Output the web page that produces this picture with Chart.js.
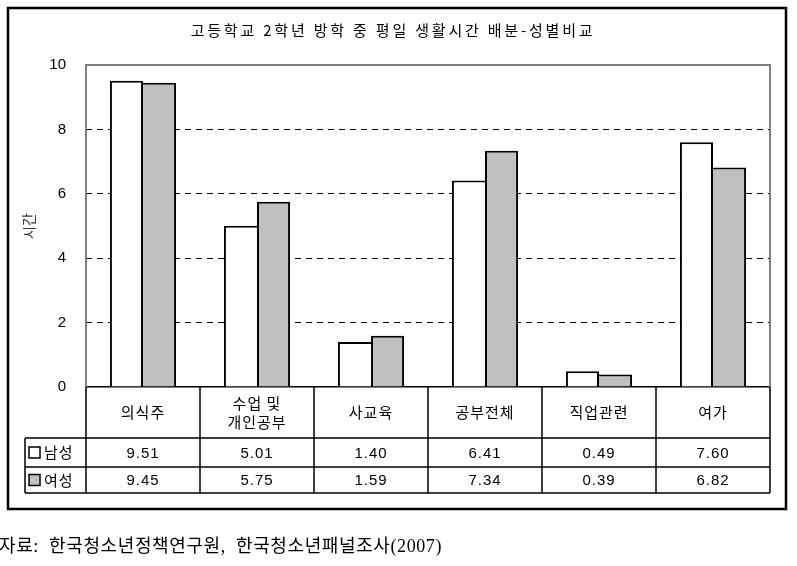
<!DOCTYPE html>
<html>
<head>
<meta charset="utf-8">
<script src="https://cdn.jsdelivr.net/npm/chart.js@4"></script>
<style>
  html, body { margin: 0; padding: 0; background: #fff; }
  #wrap { width: 797px; height: 566px; }
</style>
</head>
<body>
<div id="wrap"><canvas id="myChart" width="797" height="566"></canvas></div>
<script>
// data
const chartTitle = '고등학교 2학년 방학 중 평일 생활시간 배분-성별비교';
const categories = ['의식주', ['수업 및', '개인공부'], '사교육', '공부전체', '직업관련', '여가'];
const seriesNames = ['남성', '여성'];
const maleHours = [9.51, 5.01, 1.40, 6.41, 0.49, 7.60];
const femaleHours = [9.45, 5.75, 1.59, 7.34, 0.39, 6.82];
const yTicks = [0, 2, 4, 6, 8, 10];
const yTitle = '시간';
const sourceNote = '자료:  한국청소년정책연구원,  한국청소년패널조사(2007)';

const seriesFill = ['#ffffff', '#c0c0c0'];
const korFont = '"Noto Sans CJK KR", sans-serif';
const numFont = '"Liberation Sans", Arial, sans-serif';

// shared edge between the two bars of a group is drawn once, by the taller bar
function maleBorder(c) {
  const i = c.dataIndex;
  return { top: 2, left: 2, right: maleHours[i] >= femaleHours[i] ? 2 : 0, bottom: 0 };
}
function femaleBorder(c) {
  const i = c.dataIndex;
  return { top: 2, left: femaleHours[i] > maleHours[i] ? 2 : 0, right: 2, bottom: 0 };
}

const framePlugin = {
  id: 'frame',
  beforeDatasetsDraw(chart) {
    const { ctx, chartArea: a } = chart;
    ctx.save();
    ctx.strokeStyle = '#808080';
    ctx.lineWidth = 2;
    ctx.beginPath();
    ctx.moveTo(a.left, a.bottom);
    ctx.lineTo(a.left, a.top);
    ctx.lineTo(a.right, a.top);
    ctx.lineTo(a.right, a.bottom);
    ctx.stroke();
    ctx.restore();
  },
  afterDraw(chart) {
    const { ctx, chartArea: a } = chart;
    ctx.save();

    // title
    ctx.fillStyle = '#000';
    ctx.font = '15px ' + korFont;
    ctx.letterSpacing = '2.8px';
    ctx.textAlign = 'center';
    ctx.textBaseline = 'middle';
    ctx.fillText(chartTitle, 393, 30);

    // data table under the plot
    const colW = (a.right - a.left) / categories.length;
    const y0 = a.bottom, y1 = a.bottom + 51, y2 = a.bottom + 80, y3 = a.bottom + 106;
    const legL = 25;
    ctx.strokeStyle = '#000';
    ctx.lineWidth = 1.5;
    ctx.beginPath();
    for (let i = 0; i <= categories.length; i++) {
      const x = a.left + i * colW;
      ctx.moveTo(x, y0); ctx.lineTo(x, y3);
    }
    [y1, y2, y3].forEach(y => { ctx.moveTo(legL, y); ctx.lineTo(a.right, y); });
    ctx.moveTo(legL, y1); ctx.lineTo(legL, y3);
    ctx.stroke();

    ctx.letterSpacing = '1px';
    categories.forEach((c, i) => {
      const cx = a.left + (i + 0.5) * colW;
      ctx.font = '15px ' + korFont;
      const lines = Array.isArray(c) ? c : [c];
      const lh = 19;
      const yc = (y0 + y1) / 2;
      lines.forEach((t, k) => {
        ctx.fillText(t, cx, yc + (k - (lines.length - 1) / 2) * lh);
      });
      ctx.font = '15px ' + numFont;
      ctx.fillText(maleHours[i].toFixed(2), cx, (y1 + y2) / 2 + 1);
      ctx.fillText(femaleHours[i].toFixed(2), cx, (y2 + y3) / 2 + 1);
    });

    // legend cells
    [y1, y2].forEach((yt, k) => {
      const yb = k === 0 ? y2 : y3;
      const ym = (yt + yb) / 2;
      ctx.fillStyle = seriesFill[k];
      ctx.fillRect(29, ym - 5.5, 11, 11);
      ctx.lineWidth = 1.5;
      ctx.strokeRect(29, ym - 5.5, 11, 11);
      ctx.fillStyle = '#000';
      ctx.textAlign = 'left';
      ctx.font = '15px ' + korFont;
      ctx.fillText(seriesNames[k], 44, ym);
      ctx.textAlign = 'center';
    });

    // outer box
    ctx.lineWidth = 2.5;
    ctx.strokeRect(8, 8, 778, 501);

    // source note
    ctx.letterSpacing = '0.6px';
    ctx.textAlign = 'left';
    ctx.font = '18px "Liberation Serif", ' + korFont;
    ctx.fillText(sourceNote, -1, 547);
    ctx.restore();
  }
};

new Chart(document.getElementById('myChart'), {
  type: 'bar',
  data: {
    labels: categories,
    datasets: [
      {
        label: seriesNames[0],
        data: maleHours,
        backgroundColor: seriesFill[0],
        borderColor: '#000',
        borderWidth: maleBorder
      },
      {
        label: seriesNames[1],
        data: femaleHours,
        backgroundColor: seriesFill[1],
        borderColor: '#000',
        borderWidth: femaleBorder
      }
    ]
  },
  options: {
    responsive: false,
    animation: false,
    layout: { padding: { top: 65, right: 27, left: 0, bottom: 0 } },
    datasets: { bar: { categoryPercentage: 0.58, barPercentage: 1 } },
    plugins: {
      legend: { display: false },
      tooltip: { enabled: false },
      title: { display: false }
    },
    scales: {
      x: {
        grid: { display: false },
        ticks: { display: false },
        border: { display: true, color: '#000', width: 1.5 },
        afterFit(s) { s.height = 179; }
      },
      y: {
        min: yTicks[0],
        max: yTicks[yTicks.length - 1],
        afterBuildTicks(s) { s.ticks = yTicks.map(v => ({ value: v })); },
        afterFit(s) { s.width = 86; },
        grid: {
          drawTicks: false,
          lineWidth: 1,
          color: c => (c.tick && (c.tick.value === 0 || c.tick.value === 10)) ? 'rgba(0,0,0,0)' : '#000'
        },
        border: { display: false, dash: [6, 5] },
        ticks: {
          padding: 20,
          color: '#000',
          font: { family: numFont, size: 15 }
        },
        title: {
          display: true,
          text: yTitle,
          color: '#333',
          font: { family: korFont, size: 14 },
          padding: { top: 20, bottom: 0 }
        }
      }
    }
  },
  plugins: [framePlugin]
});
</script>
</body>
</html>
